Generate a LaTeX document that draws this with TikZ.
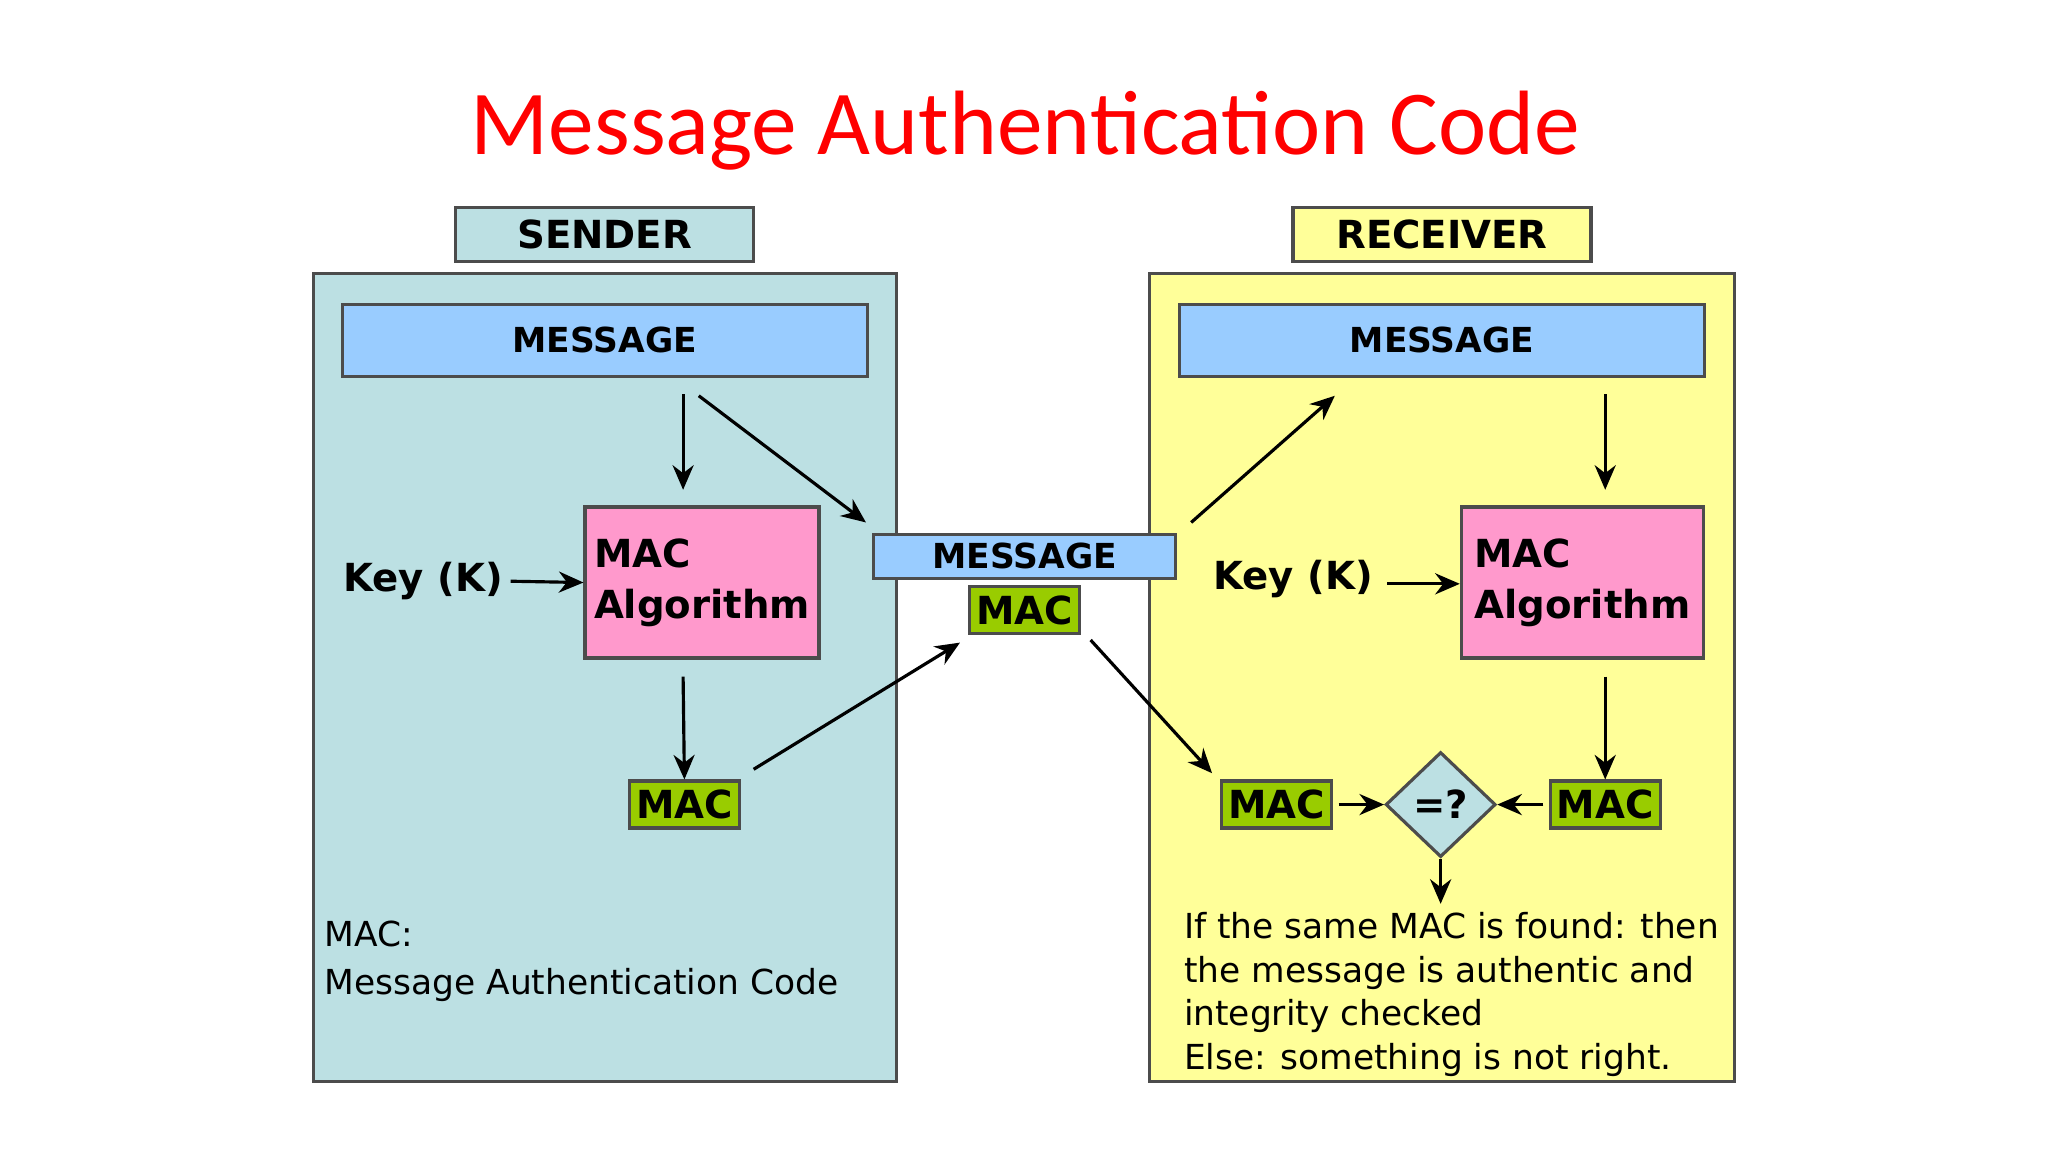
\documentclass[tikz,border=0pt]{standalone}
\usepackage{fontspec}
\setmainfont{DejaVu Sans}
\newfontfamily\titlefont{Carlito}
\usetikzlibrary{positioning, arrows.meta, shapes.geometric}
\definecolor{tealbg}{RGB}{188,224,227}
\definecolor{yellowbg}{RGB}{255,255,153}
\definecolor{msgblue}{RGB}{153,204,255}
\definecolor{algpink}{RGB}{255,153,204}
\definecolor{macgreen}{RGB}{153,204,0}

\begin{document}
\begin{tikzpicture}[
    x=0.01306cm, y=-0.01306cm,
    panel/.style={draw=black!70, line width=0.9pt, inner sep=0pt},
    tag/.style={draw=black!70, line width=0.9pt, minimum width=2.98cm, minimum height=0.54cm, inner sep=0pt, font=\fontsize{11}{13}\selectfont\bfseries},
    msg/.style={draw=black!70, line width=0.9pt, fill=msgblue, minimum width=5.25cm, minimum height=0.72cm, inner sep=0pt, font=\fontsize{9.8}{12}\selectfont\bfseries},
    alg/.style={draw=black!70, line width=0.9pt, fill=algpink, minimum width=2.34cm, minimum height=1.51cm, inner sep=2pt, align=left, font=\fontsize{11}{14.5}\selectfont\bfseries},
    mac/.style={draw=black!70, line width=0.9pt, fill=macgreen, minimum width=1.10cm, minimum height=0.47cm, inner sep=0pt, font=\fontsize{11}{13}\selectfont\bfseries},
    >={Stealth[length=7pt,width=6pt]},
    arr/.style={->, line width=0.9pt}
]
    \useasboundingbox (0,0) rectangle (1568,882);

    % --- title ---
    \node[text=red, font=\fontsize{26}{30}\selectfont\titlefont] (title) at (785,100) {Message Authentication Code};

    % --- sender side ---
    \node[panel, fill=tealbg, minimum width=5.83cm, minimum height=8.08cm] (sbox) at (463,518.5) {};
    \node[tag, fill=tealbg] (stag) at (463,179.5) {SENDER};
    \node[msg] (smsg) at (463,260.5) {MESSAGE};
    \node[alg] (salg) at (537.5,446) {MAC\\Algorithm};
    \node[font=\fontsize{11}{13}\selectfont\bfseries] (skey) at (324,445) {Key (K)};
    \node[mac] (smac) at (524,616) {MAC};
    \node[anchor=west, align=left, font=\fontsize{9.8}{13.5}\selectfont] (snote) at (239,736) {MAC:\\Message Authentication Code};

    % --- receiver side ---
    \node[panel, fill=yellowbg, minimum width=5.85cm, minimum height=8.08cm] (rbox) at (1104,518.5) {};
    \node[tag, fill=yellowbg] (rtag) at (1104,179.5) {RECEIVER};
    \node[msg] (rmsg) at (1104,260.5) {MESSAGE};
    \node[alg, minimum width=2.42cm] (ralg) at (1211.5,446) {MAC\\Algorithm};
    \node[font=\fontsize{11}{13}\selectfont\bfseries] (rkey) at (990,443) {Key (K)};
    \node[mac] (rmac) at (977.5,616) {MAC};
    \node[mac] (rmac2) at (1229,616) {MAC};
    \node[diamond, draw=black!70, line width=0.9pt, fill=tealbg, minimum width=1.10cm, minimum height=1.05cm, inner sep=0pt, font=\fontsize{11}{13}\selectfont\bfseries] (cmp) at (1103,616) {=?};
    \node[anchor=north west, align=left, font=\fontsize{9.8}{12.4}\selectfont] (rnote) at (897,689) {If the same MAC is found: then\\the message is authentic and\\integrity checked\\Else: something is not right.};

    % --- channel ---
    \node[msg, minimum width=3.02cm, minimum height=0.44cm] (cmsg) at (784.5,426) {MESSAGE};
    \node[mac] (cmac) at (784.5,467) {MAC};

    % --- connector end points ---
    \coordinate (s1) at (523,302);
    \coordinate (s2) at (535,303);
    \coordinate (c1) at (663,400);
    \coordinate (s3) at (577,589);
    \coordinate (c2) at (735,492);
    \coordinate (c3) at (912,400);
    \coordinate (r1) at (1022,303);
    \coordinate (r2) at (1229,302);
    \coordinate (c4) at (835,490);
    \coordinate (r3) at (928,592);

    % --- sender arrows ---
    \draw[arr] (s1) -- (523,375);
    \draw[arr] (s2) -- (c1);
    \draw[arr] (391,445) -- (salg.west);
    \draw[arr] (523,518) -- (smac.north);
    \draw[arr] (s3) -- (c2);

    % --- receiver arrows ---
    \draw[arr] (c3) -- (r1);
    \draw[arr] (r2) -- (1229,375);
    \draw[arr] (1062,447) -- (ralg.west |- 0,447);
    \draw[arr] (1229,518) -- (rmac2.north);
    \draw[arr] (c4) -- (r3);
    \draw[arr] (rmac.east) ++(4,0) -- (cmp.west);
    \draw[arr] (rmac2.west) ++(-4,0) -- (cmp.east);
    \draw[arr] (cmp.south) -- (1103,692);
\end{tikzpicture}
\end{document}
